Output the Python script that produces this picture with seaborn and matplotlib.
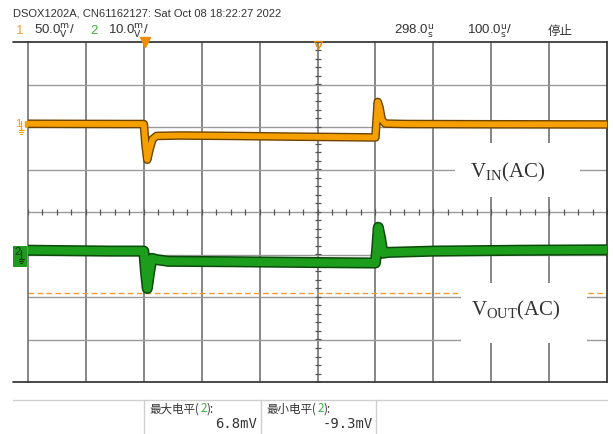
import matplotlib
matplotlib.use("Agg")
import matplotlib.pyplot as plt
import matplotlib.patheffects as pe
from matplotlib.patches import Rectangle
from matplotlib.lines import Line2D
import numpy as np
import pandas as pd
import seaborn as sns

# --- scope settings -------------------------------------------------------
t_delay = 298.0        # us at screen centre
t_div = 100.0          # us / div
ch1_scale = 50.0       # mV / div
ch2_scale = 10.0       # mV / div
ch1_gnd = 2.07         # ground marker, divisions from centre
ch2_gnd = -0.92
trig_level_div = -1.9

# --- traces (time in us, level in mV) -------------------------------------
ch1_t = [-202, -40, -2, 1, 4, 8, 13, 20, 60, 150, 250, 398, 400, 402, 405, 409, 415, 450, 600, 798]
ch1_mv = [0.3, 0.0, 0.0, -25, -42, -30, -18, -14, -13.5, -14, -14.8, -15.8, 5, 26, 20, 5, 0.5, 0, -0.3, -0.5]

ch2_t = [-202, -60, -2, 1, 4, 8, 12, 20, 40, 150, 300, 398, 400, 403, 407, 411, 420, 500, 650, 798]
ch2_mv = [0.2, 0.0, 0.0, -5, -8.8, -5, -1.7, -2.0, -2.4, -2.5, -2.7, -2.8, 0, 5.6, 3, -0.5, -0.3, 0.0, 0.2, 0.3]

max_label, max_value = "最大电平", "6.8mV"
min_label, min_value = "最小电平", "-9.3mV"

header = "DSOX1202A, CN61162127: Sat Oct 08 18:22:27 2022"

orange = "#f5a000"
orange_dark = "#6e4300"
green = "#1c9e1c"
green_dark = "#0b4a0b"

W, H = 613, 434
sns.set_style("white")
plt.rcParams["font.family"] = ["Liberation Sans", "DejaVu Sans"]
plt.rcParams["mathtext.fontset"] = "custom"
plt.rcParams["mathtext.rm"] = "Liberation Serif"

fig = plt.figure(figsize=(W / 100, H / 100), dpi=100)
fig.patch.set_facecolor("white")


def fx(px):
    return px / W


def fy(py):
    return 1 - py / H


# plot area 28..607 x 42..382 px
ax = fig.add_axes([fx(28), fy(382), fx(607) - fx(28), fy(42) - fy(382)])
ax.set_xlim(t_delay - 5 * t_div, t_delay + 5 * t_div)
ax.set_ylim(-4, 4)
ax.set_xticks([])
ax.set_yticks([])
for s in ["top", "bottom", "right"]:
    ax.spines[s].set_color("#3a3a3a")
    ax.spines[s].set_linewidth(1.3)
ax.spines["left"].set_color("#666666")
ax.spines["left"].set_linewidth(1.1)

# graticule
for k in range(-4, 5):
    ax.axvline(t_delay + k * t_div, color="#666666", lw=1.1, zorder=1)
for k in range(-3, 4):
    ax.axhline(k, color="#9a9a9a", lw=1.0, zorder=1)

# minor ticks on the centre cross
xt = t_delay + np.arange(-5, 5.01, 0.25) * t_div
ax.plot(xt, np.zeros_like(xt), ls="none", marker="|", ms=4.5, mew=0.9, color="#555555", zorder=1)
yt = np.arange(-4, 4.01, 0.2)
ax.plot(np.full_like(yt, t_delay), yt, ls="none", marker="_", ms=4.5, mew=0.9, color="#555555", zorder=1)

# trigger level
ax.axhline(trig_level_div, color="#f59a30", lw=1.0, ls=(0, (4, 2.5)), zorder=1.5)

# white boxes behind the labels
ax.add_patch(Rectangle((fx(455), fy(197)), fx(125), fy(143) - fy(197), transform=fig.transFigure,
                       facecolor="white", edgecolor="none", zorder=2))
ax.add_patch(Rectangle((fx(461), fy(343)), fx(126), fy(283) - fy(343), transform=fig.transFigure,
                       facecolor="white", edgecolor="none", zorder=2))

# channel axes sharing time
ax1 = ax.twinx()
ax1.set_ylim((-4 - ch1_gnd) * ch1_scale, (4 - ch1_gnd) * ch1_scale)
ax2 = ax.twinx()
ax2.set_ylim((-4 - ch2_gnd) * ch2_scale, (4 - ch2_gnd) * ch2_scale)
for a in (ax1, ax2):
    a.set_yticks([])
    a.axis("off")

d1 = pd.DataFrame({"t": ch1_t, "mv": ch1_mv})
d2 = pd.DataFrame({"t": ch2_t, "mv": ch2_mv})
sns.lineplot(data=d1, x="t", y="mv", ax=ax1, color=orange, lw=4.2, estimator=None, zorder=3,
             path_effects=[pe.Stroke(linewidth=6.2, foreground=orange_dark), pe.Normal()])
sns.lineplot(data=d2, x="t", y="mv", ax=ax2, color=green, lw=5.8, estimator=None, zorder=3,
             path_effects=[pe.Stroke(linewidth=8.0, foreground=green_dark), pe.Normal()])
for a in (ax1, ax2):
    a.set_xlabel("")
    a.set_ylabel("")

# trigger / delay markers on top edge
ax.plot([0], [4], marker="v", ms=7, color="#f08c00", clip_on=False, zorder=5)
ax.plot([t_delay], [3.93], marker="v", ms=6, mfc="none", mec="#f08c00", mew=1.0, clip_on=False, zorder=5)

# frame lines continuing to the left
fig.add_artist(Line2D([fx(13), fx(28)], [fy(42), fy(42)], color="#3a3a3a", lw=1.3))
fig.add_artist(Line2D([fx(13), fx(28)], [fy(382), fy(382)], color="#3a3a3a", lw=1.3))

# channel ground markers
fig.text(fx(15), fy(124), "1", color=orange, fontsize=8, va="center", ha="left")
fig.add_artist(Line2D([fx(21), fx(21)], [fy(121), fy(130)], color=orange, lw=1))
for i, wdt in enumerate([5, 3.5, 2]):
    fig.add_artist(Line2D([fx(21 - wdt / 2), fx(21 + wdt / 2)], [fy(130 + i * 2), fy(130 + i * 2)],
                          color=orange, lw=0.8))
ax.plot([t_delay - 5 * t_div], [ch1_gnd], marker=">", ms=5, color=orange, clip_on=False, zorder=5)

fig.add_artist(Rectangle((fx(13), fy(267)), fx(14), fy(246) - fy(267), facecolor="#1f9a1f",
                         edgecolor="none", transform=fig.transFigure))
fig.text(fx(14), fy(252), "2", color="#0a3a0a", fontsize=8, va="center", ha="left")
fig.add_artist(Line2D([fx(21), fx(21)], [fy(250), fy(259)], color="#0a3a0a", lw=0.9))
for i, wdt in enumerate([5, 3.5, 2]):
    fig.add_artist(Line2D([fx(21 - wdt / 2), fx(21 + wdt / 2)], [fy(259 + i * 2), fy(259 + i * 2)],
                          color="#0a3a0a", lw=0.8))

# labels on the graticule
fig.text(fx(508), fy(172), r"$\mathrm{V_{IN}(AC)}$", fontsize=15, ha="center", va="center",
         color="#333333", zorder=6)
fig.text(fx(516), fy(310), r"$\mathrm{V_{OUT}(AC)}$", fontsize=15, ha="center", va="center",
         color="#333333", zorder=6)

# header
txt = "#333333"
fig.text(fx(13), fy(13), header, fontsize=8, color=txt, va="center")
fig.text(fx(16), fy(31), "1", fontsize=9.5, color="#f0a030", va="center")
fig.text(fx(34), fy(31), r"50.0$^{\mathsf{m}}_{\mathsf{V}}$/", fontsize=9.5, color=txt, va="center")
fig.text(fx(90), fy(31), "2", fontsize=9.5, color="#40b040", va="center")
fig.text(fx(108), fy(31), r"10.0$^{\mathsf{m}}_{\mathsf{V}}$/", fontsize=9.5, color=txt, va="center")
fig.text(fx(394), fy(31), r"298.0$^{\mathsf{u}}_{\mathsf{s}}$", fontsize=9.5, color=txt, va="center")
fig.text(fx(467), fy(31), r"100.0$^{\mathsf{u}}_{\mathsf{s}}$/", fontsize=9.5, color=txt, va="center")
fig.text(fx(548), fy(31), "停止", fontsize=9, color=txt, va="center",
         family=["Noto Sans CJK SC", "DejaVu Sans"])

# measurement strip
sep = "#cfcfcf"
fig.add_artist(Line2D([fx(13), fx(607)], [fy(400), fy(400)], color=sep, lw=1))
for xp in [144, 261, 376]:
    fig.add_artist(Line2D([fx(xp), fx(xp)], [fy(400), fy(434)], color=sep, lw=1))

cjk = ["Noto Sans CJK SC", "DejaVu Sans"]
for x0, lab, val, xr in [(149, max_label, max_value, 257), (266, min_label, min_value, 373)]:
    fig.text(fx(x0), fy(409), lab + "(", fontsize=8.3, color=txt, va="center", family=cjk)
    fig.text(fx(x0 + 52), fy(409), "2", fontsize=8.3, color="#3cb43c", va="center", family=cjk)
    fig.text(fx(x0 + 57), fy(409), "):", fontsize=8.3, color=txt, va="center", family=cjk)
    fig.text(fx(xr), fy(424), val, fontsize=10, color=txt, va="center", ha="right",
             family=["DejaVu Sans Mono"])

fig.savefig("out.png", dpi=100)
